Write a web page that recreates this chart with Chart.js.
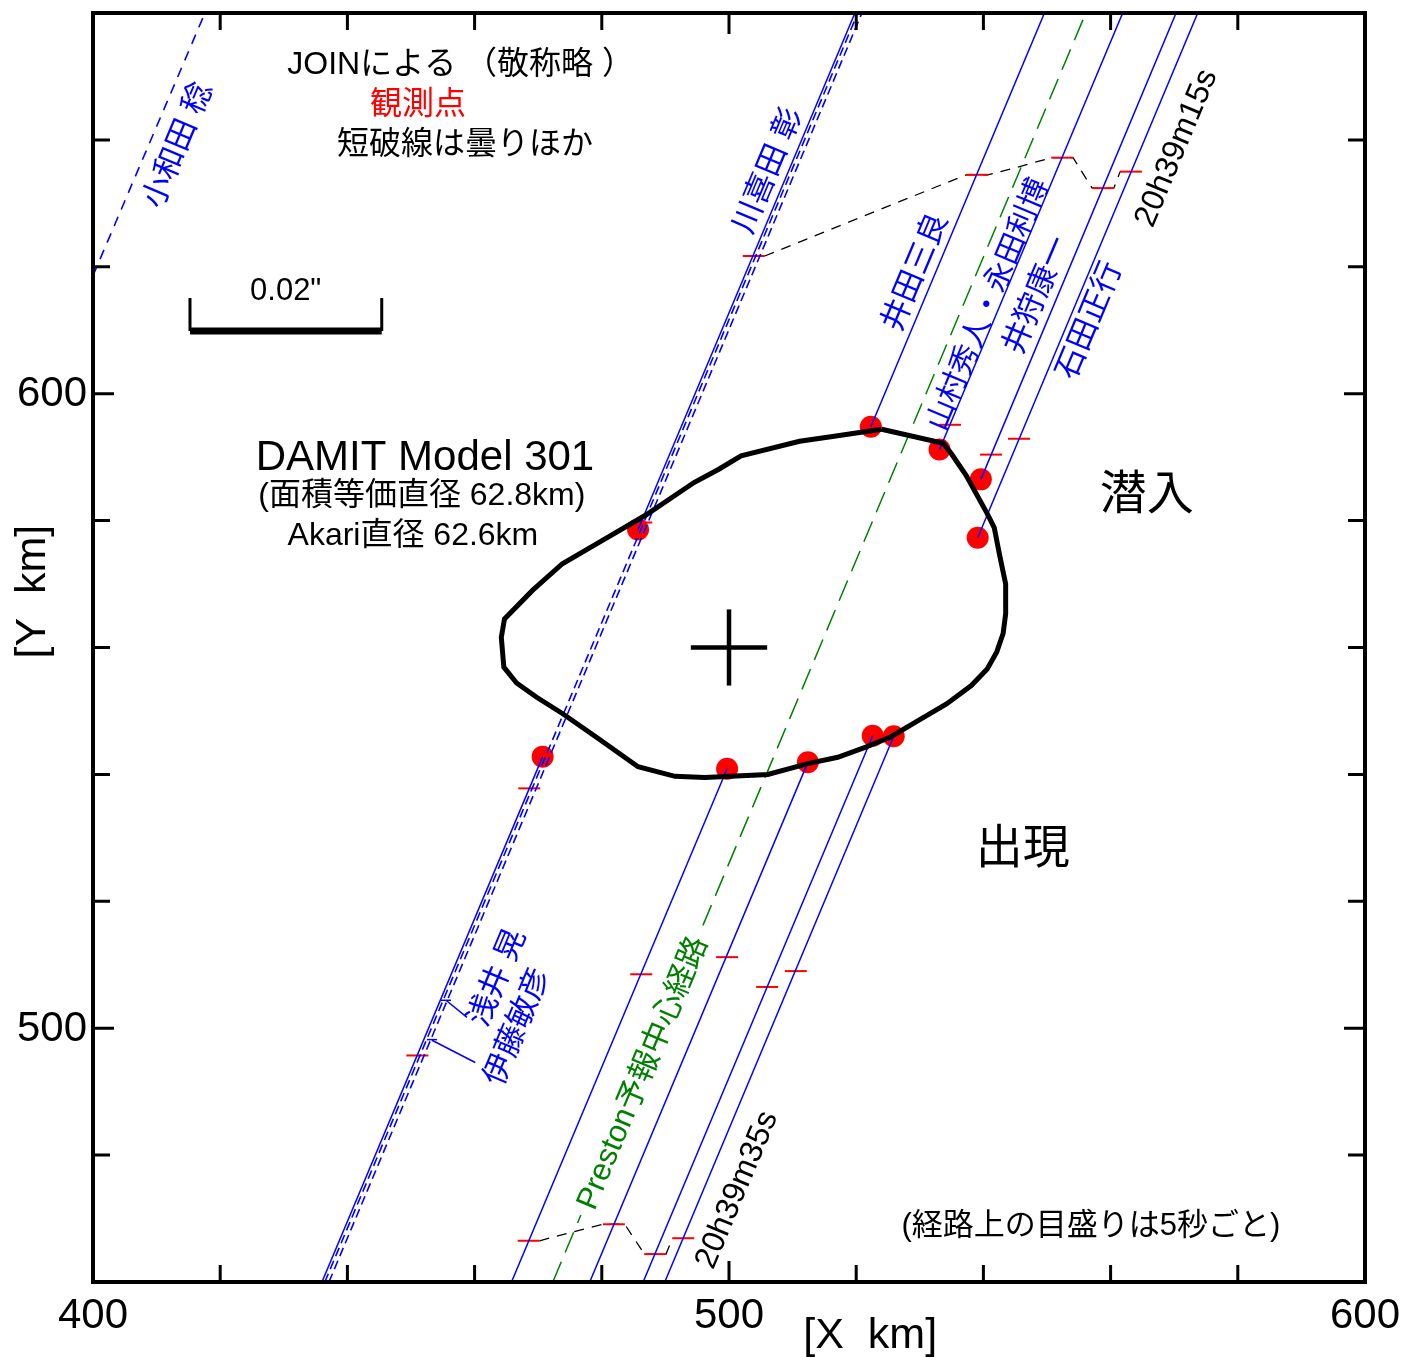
<!DOCTYPE html>
<html><head><meta charset="utf-8">
<script src="https://cdn.jsdelivr.net/npm/chart.js@4/dist/chart.umd.min.js"></script>
<style>html,body{margin:0;padding:0;background:#fff;}canvas{display:block;}</style>
</head><body>
<canvas id="c" width="1402" height="1357" style="width:1402px;height:1357px"></canvas>
<script>
// ---------------- DATA (km) ----------------
const xTicks = [400,420,440,460,480,500,520,540,560,580,600];
const xTickLabels = [400,500,600];
const yTicks = [460,480,500,520,540,560,580,600,620,640,660];
const yTickLabels = [500,600];

// DAMIT model 301 silhouette
const outlineX = [524.0,533.7,535.0,537.3,540.6,541.7,542.5,543.5,543.5,543.1,542.1,540.6,538.1,534.2,529.8,525.4,521.5,517.1,512.4,506.1,496.2,491.5,485.7,479.1,473.8,469.7,466.6,464.6,464.2,464.7,469.1,473.8,479.1,486.8,494.5,498.4,501.9,511.1,516.0,524.0];
const outlineY = [594.4,592.2,590.5,587.1,581.1,578.9,574.8,570.0,565.3,562.2,559.3,556.6,554.0,551.1,548.5,545.9,544.3,542.7,541.7,540.0,539.5,539.7,541.2,545.9,549.6,552.2,554.4,556.9,561.6,564.5,569.0,573.2,576.3,580.8,586.0,588.1,590.2,592.5,593.2,594.4];
const centerX = 500, centerY = 560, crossHalf = 6;

// positive chords (solid): X at bottom (Y=460) and top (Y=660)
const chordNames   = ['川喜田 彰','井田三良','山村秀人・永田利博','井狩康一','石田正行'];
const chordBottomX = [436.0, 465.8, 478.1, 486.5, 489.9];
const chordTopX    = [519.8, 549.6, 561.9, 570.3, 573.7];
// reappearance (lower) / disappearance (upper) points
const reapX = [470.7, 499.7, 512.4, 522.6, 525.9];
const reapY = [542.8, 540.9, 541.9, 546.1, 546.0];
const disX  = [485.7, 522.3, 533.1, 539.6, 539.1];
const disY  = [578.6, 594.8, 591.2, 586.5, 577.3];

// cloudy / other observers (short dashed): start & end points
const cloudNames = ['浅井 晃','伊藤敏彦','小和田 稔'];
const cloudX1 = [436.45, 437.1, 400.0];
const cloudY1 = [460, 460, 618.6];
const cloudX2 = [520.25, 520.9, 417.6];
const cloudY2 = [660, 660, 660];

// Preston predicted central path (broken where labelled)
const prestonX = [472.3, 476.7, null, 495.9, 556.1];
const prestonY = [460, 470.55, null, 516.2, 660];

// 5-second time marks on the paths
const markX = [503.9,486.2,468.6,451.0, 539.0,486.2,468.5, 552.4,534.75,499.7,481.9, 558.8,541.2,506.0,488.4, 563.2,545.6,510.5,492.8];
const markY = [621.7,579.7,537.8,495.7, 634.5,508.5,466.5, 637.2,595.1,511.2,469.1, 632.4,590.4,506.5,464.4, 635.0,592.9,509.0,466.9];

// isochrones 20h39m15s and 20h39m35s
const iso15X = [505.6,537.3,540.7,546.1,550.7,554.1,557.1,560.5,561.5];
const iso15Y = [621.7,634.5,634.5,635.9,637.2,637.2,632.4,632.4,635.0];
const iso35X = [470.2,475.55,480.2,483.6,486.7,490.1,491.1];
const iso35Y = [466.5,467.9,469.1,469.1,464.4,464.4,466.9];

// label pointers for 浅井/伊藤
const ptrX = [[454.7,456.3],[455.5,458.8],[452.5,454.1],[453.3,460.1]];
const ptrY = [[504.4,504.4],[504.4,501.7],[498.2,498.2],[498.1,494.6]];

// scale bar 0.02"
const barX = [415.25, 445.4];
const barY = 609.9, barTickTop = 615.1;

// ---------------- build datasets ----------------
const BLUE='#0000ff', RED='#ff0000', GREEN='#008000', BLACK='#000000';
const pts = (xs, ys) => xs.map((x,i)=>({x:x, y:ys[i]}));
const ds = [];
function line(data, color, width, dash, order){
  ds.push({type:'scatter', data:data, showLine:true, borderColor:color, borderWidth:width,
    borderDash:dash||[], pointRadius:0, pointHoverRadius:0, fill:false, tension:0, order:order, spanGaps:false});
}
// outline and cross
line(pts(outlineX, outlineY), BLACK, 5, null, 1);
line([{x:centerX-crossHalf,y:centerY},{x:centerX+crossHalf,y:centerY}], BLACK, 4.5, null, 1);
line([{x:centerX,y:centerY-crossHalf},{x:centerX,y:centerY+crossHalf}], BLACK, 4.5, null, 1);
// solid chords (outside the occultation)
chordBottomX.forEach((bx,i)=>{
  line([{x:bx,y:460},{x:reapX[i],y:reapY[i]}], BLUE, 1.5, null, 2);
  line([{x:disX[i],y:disY[i]},{x:chordTopX[i],y:660}], BLUE, 1.5, null, 2);
});
// cloudy
cloudX1.forEach((x1,i)=>{
  line([{x:x1,y:cloudY1[i]},{x:cloudX2[i],y:cloudY2[i]}], BLUE, 1.6, i<2?[9,5]:[10,8], 2);
});
// Preston
line(prestonX.map((x,i)=>({x:x, y:prestonY[i]})), GREEN, 1.5, [22,10], 2);
// pointers
ptrX.forEach((xs,i)=>line(pts(xs, ptrY[i]), BLUE, 1.5, null, 2));
// isochrones
line(pts(iso15X, iso15Y), BLACK, 1.3, [10,8], 6);
line(pts(iso35X, iso35Y), BLACK, 1.3, [10,8], 6);
// scale bar
line([{x:barX[0],y:barY},{x:barX[1],y:barY}], BLACK, 7, null, 1);
line([{x:barX[0],y:barTickTop},{x:barX[0],y:barY}], BLACK, 3, null, 1);
line([{x:barX[1],y:barTickTop},{x:barX[1],y:barY}], BLACK, 3, null, 1);
// red time marks
ds.push({type:'scatter', data:pts(markX, markY), showLine:false, pointStyle:'line', pointRadius:11,
  pointHoverRadius:11, borderColor:RED, pointBorderColor:RED, pointBorderWidth:2, borderWidth:2, order:5});
// red event dots
ds.push({type:'scatter', data:pts(reapX.concat(disX), reapY.concat(disY)), showLine:false, pointStyle:'circle',
  pointRadius:11, pointHoverRadius:11, pointBackgroundColor:RED, backgroundColor:RED, pointBorderWidth:0, borderWidth:0, order:3});

// ---------------- labels ----------------
const F = '"Liberation Sans", "Noto Sans CJK JP", sans-serif';
const ROT = -67.24*Math.PI/180;
const labels = [
  {t:'JOINによる （敬称略 ）', x:457.8, y:651.8, s:32, c:BLACK},
  {t:'観測点', x:451.1, y:645.4, s:32, c:RED},
  {t:'短破線は曇りほか', x:458.5, y:639.1, s:32, c:BLACK},
  {t:'0.02"', x:430.3, y:616.1, s:31, c:BLACK},
  {t:'DAMIT Model 301', x:452.2, y:589.8, s:42, c:BLACK},
  {t:'(面積等価直径 62.8km)', x:451.7, y:583.8, s:32, c:BLACK},
  {t:'Akari直径 62.6km', x:450.3, y:577.6, s:32, c:BLACK},
  {t:'潜入', x:565.7, y:583.9, s:47, c:BLACK},
  {t:'出現', x:546.2, y:528.0, s:47, c:BLACK},
  {t:'(経路上の目盛りは5秒ごと)', x:556.9, y:468.7, s:31, c:BLACK},
  {t:cloudNames[2], x:413.5, y:639.1, s:31, c:BLUE, r:ROT},
  {t:chordNames[0], x:506.3, y:635.1, s:31, c:BLUE, r:ROT},
  {t:chordNames[1], x:529.4, y:619.1, s:31, c:BLUE, r:ROT},
  {t:chordNames[2], x:540.9, y:614.0, s:30, c:BLUE, r:ROT},
  {t:chordNames[3], x:548.5, y:615.5, s:31, c:BLUE, r:ROT},
  {t:chordNames[4], x:556.8, y:611.5, s:31, c:BLUE, r:ROT},
  {t:'20h39m15s', x:570.4, y:638.7, s:32, c:BLACK, r:ROT},
  {t:cloudNames[0], x:463.7, y:507.9, s:31, c:BLUE, r:ROT},
  {t:cloudNames[1], x:466.8, y:500.2, s:31, c:BLUE, r:ROT},
  {t:'Preston予報中心経路', x:486.5, y:492.9, s:31, c:GREEN, r:ROT},
  {t:'20h39m35s', x:501.3, y:474.5, s:32, c:BLACK, r:ROT}
];

const decor = {
  id:'decor',
  afterDatasetsDraw(chart){
    const ctx = chart.ctx, xs = chart.scales.x, ys = chart.scales.y, a = chart.chartArea;
    ctx.save();
    labels.forEach(l=>{
      ctx.save();
      ctx.translate(xs.getPixelForValue(l.x), ys.getPixelForValue(l.y));
      if (l.r) ctx.rotate(l.r);
      ctx.font = l.s+'px '+F; ctx.fillStyle = l.c; ctx.textAlign='center'; ctx.textBaseline='middle';
      ctx.fillText(l.t, 0, 0);
      ctx.restore();
    });
    // frame
    ctx.strokeStyle = BLACK; ctx.lineWidth = 4;
    ctx.strokeRect(a.left, a.top, a.right-a.left, a.bottom-a.top);
    ctx.lineWidth = 3;
    xTicks.forEach(v=>{
      const p = xs.getPixelForValue(v); const L = xTickLabels.includes(v)?21:17;
      if (v===xs.min||v===xs.max) return;
      ctx.beginPath(); ctx.moveTo(p, a.bottom); ctx.lineTo(p, a.bottom-L);
      ctx.moveTo(p, a.top); ctx.lineTo(p, a.top+L); ctx.stroke();
    });
    yTicks.forEach(v=>{
      const p = ys.getPixelForValue(v); const L = yTickLabels.includes(v)?21:17;
      if (v===ys.min||v===ys.max) return;
      ctx.beginPath(); ctx.moveTo(a.left, p); ctx.lineTo(a.left+L, p);
      ctx.moveTo(a.right, p); ctx.lineTo(a.right-L, p); ctx.stroke();
    });
    // tick labels
    ctx.fillStyle = BLACK; ctx.font = '42px '+F; ctx.textBaseline='middle';
    ctx.textAlign='center';
    xTickLabels.forEach(v=>ctx.fillText(String(v), xs.getPixelForValue(v), a.bottom+34));
    ctx.textAlign='right';
    yTickLabels.forEach(v=>ctx.fillText(String(v), a.left-6, ys.getPixelForValue(v)+1));
    // axis titles
    ctx.font = '43px '+F; ctx.textAlign='center';
    ctx.fillText('[X  km]', xs.getPixelForValue(522.2), a.bottom+54);
    ctx.save(); ctx.translate(33, ys.getPixelForValue(568.8)); ctx.rotate(-Math.PI/2);
    ctx.fillText('[Y  km]', 0, 0); ctx.restore();
    ctx.restore();
  }
};

new Chart(document.getElementById('c'), {
  type:'scatter',
  data:{datasets:ds},
  options:{
    responsive:false, animation:false, devicePixelRatio:1,
    layout:{padding:{left:93, top:12, right:37, bottom:75}},
    plugins:{legend:{display:false}, tooltip:{enabled:false}},
    events:[],
    scales:{
      x:{type:'linear', min:400, max:600, display:false},
      y:{type:'linear', min:460, max:660, display:false}
    }
  },
  plugins:[decor]
});
</script>
</body></html>
